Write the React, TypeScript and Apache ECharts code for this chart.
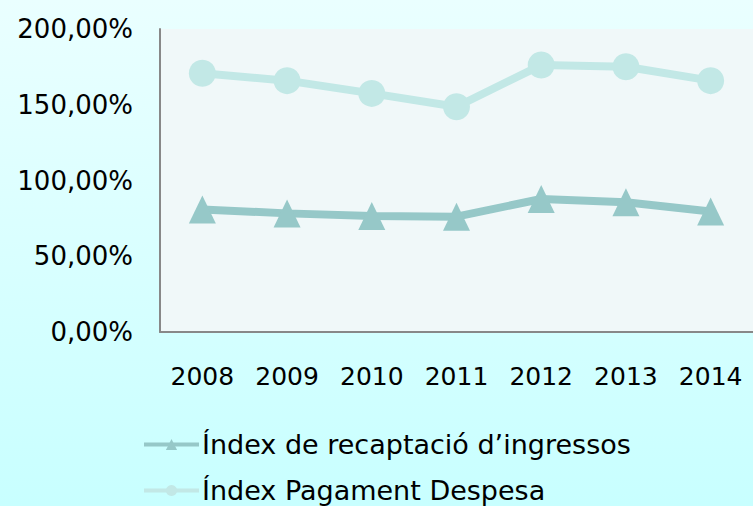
import React, { useEffect, useRef } from "react";
import * as echarts from "echarts";

const years = ["2008", "2009", "2010", "2011", "2012", "2013", "2014"];
const recaptacio = [80.9, 78.3, 76.6, 76.1, 87.8, 85.6, 79.5];
const pagament = [170.8, 165.9, 157.5, 148.7, 176.2, 175.1, 165.9];
const seriesNames = ["Índex de recaptació d’ingressos", "Índex Pagament Despesa"];

const FONT = "DejaVu Sans";

export default function App() {
  const ref = useRef<HTMLDivElement>(null);
  useEffect(() => {
    if (!ref.current) return;
    const chart = echarts.init(ref.current, undefined, { renderer: "svg" });
    chart.setOption({
      animation: false,
      backgroundColor: "transparent",
      grid: {
        left: 160,
        top: 29,
        right: 0,
        bottom: 174,
        show: true,
        backgroundColor: "#F0F8F9",
        borderWidth: 0,
      },
      legend: {
        orient: "vertical",
        left: 142,
        top: 431,
        padding: 0,
        itemWidth: 55,
        itemHeight: 14,
        itemGap: 19,
        lineStyle: { width: 4 },
        textStyle: { fontFamily: FONT, fontSize: 27, color: "#000", padding: [0, 0, 0, -2] },
        data: seriesNames,
      },
      xAxis: {
        type: "category",
        data: years,
        boundaryGap: true,
        axisLine: { show: true, lineStyle: { color: "#888", width: 2 } },
        axisTick: { show: false },
        axisLabel: { fontFamily: FONT, fontSize: 25, color: "#000", margin: 32, interval: 0 },
      },
      yAxis: {
        type: "value",
        min: 0,
        max: 200,
        interval: 50,
        axisLine: { show: true, lineStyle: { color: "#888", width: 2 } },
        axisTick: { show: false },
        splitLine: { show: false },
        axisLabel: {
          fontFamily: FONT,
          fontSize: 26,
          color: "#000",
          margin: 27,
          formatter: (v: number) => v.toFixed(2).replace(".", ",") + "%",
        },
      },
      series: [
        {
          name: seriesNames[0],
          type: "line",
          data: recaptacio,
          symbol: "triangle",
          symbolSize: [27, 28],
          color: "#96C8C8",
          lineStyle: { width: 8, color: "#96C8C8" },
          itemStyle: { color: "#96C8C8" },
        },
        {
          name: seriesNames[1],
          type: "line",
          data: pagament,
          symbol: "circle",
          symbolSize: 27,
          color: "#C2E8E6",
          lineStyle: { width: 8, color: "#C2E8E6" },
          itemStyle: { color: "#C2E8E6" },
        },
      ],
    });
    return () => chart.dispose();
  }, []);
  return (
    <div
      ref={ref}
      style={{
        position: "absolute",
        left: 0,
        top: 0,
        width: 753,
        height: 506,
        background: "linear-gradient(to bottom, #EAFFFF 0%, #C8FFFF 100%)",
      }}
    />
  );
}
